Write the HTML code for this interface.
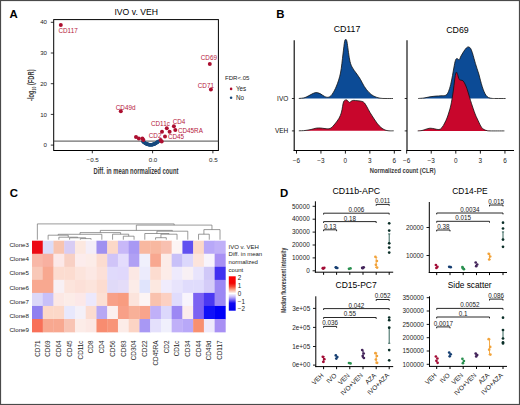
<!DOCTYPE html>
<html><head><meta charset="utf-8"><style>
html,body{margin:0;padding:0;background:#fff;}
svg{display:block;font-family:"Liberation Sans", sans-serif;}
</style></head><body>
<svg width="520" height="405" viewBox="0 0 520 405">
<rect width="520" height="405" fill="#fff"/>
<rect x="0.5" y="0.5" width="519" height="404" fill="none" stroke="#4a4a4a" stroke-width="1.2"/>
<text x="9.6" y="18.1" font-size="11.4" text-anchor="start" font-weight="bold" fill="#000" >A</text>
<text x="276.3" y="18.1" font-size="11.4" text-anchor="start" font-weight="bold" fill="#000" >B</text>
<text x="9.8" y="196.8" font-size="11.4" text-anchor="start" font-weight="bold" fill="#000" >C</text>
<text x="280.1" y="196.8" font-size="11.4" text-anchor="start" font-weight="bold" fill="#000" >D</text>
<rect x="53.7" y="19.6" width="164.7" height="130.9" fill="none" stroke="#000" stroke-width="1"/>
<text x="136.2" y="15" font-size="8.65" text-anchor="middle" font-weight="normal" fill="#000" >IVO v. VEH</text>
<line x1="50.8" y1="145.1" x2="53.7" y2="145.1" stroke="#000" stroke-width="0.8" />
<text x="47.0" y="147.2" font-size="6.1" text-anchor="end" font-weight="normal" fill="#222" >0</text>
<line x1="50.8" y1="114.39999999999999" x2="53.7" y2="114.39999999999999" stroke="#000" stroke-width="0.8" />
<text x="47.0" y="116.49999999999999" font-size="6.1" text-anchor="end" font-weight="normal" fill="#222" >10</text>
<line x1="50.8" y1="83.69999999999999" x2="53.7" y2="83.69999999999999" stroke="#000" stroke-width="0.8" />
<text x="47.0" y="85.79999999999998" font-size="6.1" text-anchor="end" font-weight="normal" fill="#222" >20</text>
<line x1="50.8" y1="53.0" x2="53.7" y2="53.0" stroke="#000" stroke-width="0.8" />
<text x="47.0" y="55.1" font-size="6.1" text-anchor="end" font-weight="normal" fill="#222" >30</text>
<line x1="50.8" y1="22.299999999999997" x2="53.7" y2="22.299999999999997" stroke="#000" stroke-width="0.8" />
<text x="47.0" y="24.4" font-size="6.1" text-anchor="end" font-weight="normal" fill="#222" >40</text>
<line x1="92.3" y1="150.5" x2="92.3" y2="153.3" stroke="#000" stroke-width="0.8" />
<text x="92.7" y="161.9" font-size="6.2" text-anchor="middle" font-weight="normal" fill="#222" >−0.5</text>
<line x1="152.6" y1="150.5" x2="152.6" y2="153.3" stroke="#000" stroke-width="0.8" />
<text x="153.0" y="161.9" font-size="6.2" text-anchor="middle" font-weight="normal" fill="#222" >0.0</text>
<line x1="212.89999999999998" y1="150.5" x2="212.89999999999998" y2="153.3" stroke="#000" stroke-width="0.8" />
<text x="213.29999999999998" y="161.9" font-size="6.2" text-anchor="middle" font-weight="normal" fill="#222" >0.5</text>
<text x="135.95" y="173.7" font-size="8.4" font-weight="bold" text-anchor="middle" fill="#3a3a3a" textLength="84.9" lengthAdjust="spacingAndGlyphs">Diff. in mean normalized count</text>
<g transform="translate(34.3,85.25) rotate(-90) scale(0.70,1)"><text x="0" y="0" font-size="8.2" font-weight="bold" text-anchor="middle" fill="#3a3a3a">-log<tspan font-size="5" dy="1.6">10</tspan><tspan dy="-1.6"> (FDR)</tspan></text></g>
<line x1="53.7" y1="141.1" x2="218.4" y2="141.1" stroke="#4a4a4a" stroke-width="1" />
<circle cx="143.00" cy="141.50" r="1.8" fill="#174a7e"/>
<circle cx="143.40" cy="141.84" r="1.8" fill="#174a7e"/>
<circle cx="143.79" cy="142.15" r="1.8" fill="#174a7e"/>
<circle cx="144.19" cy="142.45" r="1.8" fill="#174a7e"/>
<circle cx="144.59" cy="142.74" r="1.8" fill="#174a7e"/>
<circle cx="144.99" cy="143.00" r="1.8" fill="#174a7e"/>
<circle cx="145.38" cy="143.25" r="1.8" fill="#174a7e"/>
<circle cx="145.78" cy="143.47" r="1.8" fill="#174a7e"/>
<circle cx="146.18" cy="143.68" r="1.8" fill="#174a7e"/>
<circle cx="146.58" cy="143.88" r="1.8" fill="#174a7e"/>
<circle cx="146.97" cy="144.05" r="1.8" fill="#174a7e"/>
<circle cx="147.37" cy="144.20" r="1.8" fill="#174a7e"/>
<circle cx="147.77" cy="144.34" r="1.8" fill="#174a7e"/>
<circle cx="148.17" cy="144.46" r="1.8" fill="#174a7e"/>
<circle cx="148.56" cy="144.56" r="1.8" fill="#174a7e"/>
<circle cx="148.96" cy="144.65" r="1.8" fill="#174a7e"/>
<circle cx="149.36" cy="144.71" r="1.8" fill="#174a7e"/>
<circle cx="149.76" cy="144.76" r="1.8" fill="#174a7e"/>
<circle cx="150.15" cy="144.79" r="1.8" fill="#174a7e"/>
<circle cx="150.55" cy="144.80" r="1.8" fill="#174a7e"/>
<circle cx="150.95" cy="144.79" r="1.8" fill="#174a7e"/>
<circle cx="151.35" cy="144.77" r="1.8" fill="#174a7e"/>
<circle cx="151.74" cy="144.73" r="1.8" fill="#174a7e"/>
<circle cx="152.14" cy="144.66" r="1.8" fill="#174a7e"/>
<circle cx="152.54" cy="144.59" r="1.8" fill="#174a7e"/>
<circle cx="152.94" cy="144.49" r="1.8" fill="#174a7e"/>
<circle cx="153.33" cy="144.37" r="1.8" fill="#174a7e"/>
<circle cx="153.73" cy="144.24" r="1.8" fill="#174a7e"/>
<circle cx="154.13" cy="144.09" r="1.8" fill="#174a7e"/>
<circle cx="154.53" cy="143.92" r="1.8" fill="#174a7e"/>
<circle cx="154.92" cy="143.73" r="1.8" fill="#174a7e"/>
<circle cx="155.32" cy="143.53" r="1.8" fill="#174a7e"/>
<circle cx="155.72" cy="143.30" r="1.8" fill="#174a7e"/>
<circle cx="156.12" cy="143.06" r="1.8" fill="#174a7e"/>
<circle cx="156.51" cy="142.80" r="1.8" fill="#174a7e"/>
<circle cx="156.91" cy="142.53" r="1.8" fill="#174a7e"/>
<circle cx="157.31" cy="142.23" r="1.8" fill="#174a7e"/>
<circle cx="157.71" cy="141.92" r="1.8" fill="#174a7e"/>
<circle cx="158.10" cy="141.58" r="1.8" fill="#174a7e"/>
<circle cx="158.50" cy="141.23" r="1.8" fill="#174a7e"/>
<circle cx="60.80" cy="25.00" r="2" fill="#ac0f30"/>
<circle cx="209.80" cy="64.00" r="2" fill="#ac0f30"/>
<circle cx="210.90" cy="89.60" r="2" fill="#ac0f30"/>
<circle cx="120.80" cy="111.20" r="2" fill="#ac0f30"/>
<circle cx="136.00" cy="137.00" r="2" fill="#ac0f30"/>
<circle cx="138.80" cy="138.40" r="2" fill="#ac0f30"/>
<circle cx="142.40" cy="138.40" r="2" fill="#ac0f30"/>
<circle cx="143.40" cy="140.00" r="2" fill="#ac0f30"/>
<circle cx="160.60" cy="140.00" r="2" fill="#ac0f30"/>
<circle cx="161.70" cy="141.60" r="2" fill="#ac0f30"/>
<circle cx="162.00" cy="131.80" r="2" fill="#ac0f30"/>
<circle cx="165.00" cy="136.50" r="2" fill="#ac0f30"/>
<circle cx="166.80" cy="128.20" r="2" fill="#ac0f30"/>
<circle cx="169.60" cy="131.80" r="2" fill="#ac0f30"/>
<circle cx="173.90" cy="126.20" r="2" fill="#ac0f30"/>
<circle cx="175.30" cy="130.00" r="2" fill="#ac0f30"/>
<text x="58.5" y="32.6" font-size="6.3" text-anchor="start" font-weight="normal" fill="#b5173a" >CD117</text>
<text x="200.8" y="60.2" font-size="6.3" text-anchor="start" font-weight="normal" fill="#b5173a" >CD69</text>
<text x="197.8" y="87.9" font-size="6.3" text-anchor="start" font-weight="normal" fill="#b5173a" >CD71</text>
<text x="115.8" y="109.5" font-size="6.3" text-anchor="start" font-weight="normal" fill="#b5173a" >CD49d</text>
<text x="151" y="125.7" font-size="6.3" text-anchor="start" font-weight="normal" fill="#b5173a" >CD11c</text>
<text x="172.7" y="124.2" font-size="6.3" text-anchor="start" font-weight="normal" fill="#b5173a" >CD4</text>
<text x="178" y="132.5" font-size="6.3" text-anchor="start" font-weight="normal" fill="#b5173a" >CD45RA</text>
<text x="168" y="138.7" font-size="6.3" text-anchor="start" font-weight="normal" fill="#b5173a" >CD45</text>
<text x="148.8" y="138.2" font-size="6.3" text-anchor="start" font-weight="normal" fill="#b5173a" >CD2</text>
<text x="225" y="80.4" font-size="6.05" text-anchor="start" font-weight="normal" fill="#222" >FDR&lt;.05</text>
<circle cx="231.10" cy="88.90" r="1.3" fill="#ac0f30"/>
<text x="236" y="91" font-size="6.3" text-anchor="start" font-weight="normal" fill="#222" >Yes</text>
<circle cx="231.10" cy="97.80" r="1.3" fill="#174a7e"/>
<text x="236" y="99.9" font-size="6.3" text-anchor="start" font-weight="normal" fill="#222" >No</text>
<text x="347" y="32.1" font-size="8.8" text-anchor="middle" font-weight="normal" fill="#000" >CD117</text>
<text x="457.5" y="32.7" font-size="8.8" text-anchor="middle" font-weight="normal" fill="#000" >CD69</text>
<line x1="294.2" y1="40.3" x2="294.2" y2="151.0" stroke="#000" stroke-width="1.1" />
<line x1="293.65" y1="150.5" x2="401.2" y2="150.5" stroke="#000" stroke-width="1.1" />
<line x1="296.5" y1="150.5" x2="296.5" y2="153.6" stroke="#000" stroke-width="0.9" />
<text x="296.5" y="162.8" font-size="6.4" text-anchor="middle" font-weight="normal" fill="#222" >−6</text>
<line x1="320.95" y1="150.5" x2="320.95" y2="153.6" stroke="#000" stroke-width="0.9" />
<text x="320.95" y="162.8" font-size="6.4" text-anchor="middle" font-weight="normal" fill="#222" >−3</text>
<line x1="345.4" y1="150.5" x2="345.4" y2="153.6" stroke="#000" stroke-width="0.9" />
<text x="345.4" y="162.8" font-size="6.4" text-anchor="middle" font-weight="normal" fill="#222" >0</text>
<line x1="369.84999999999997" y1="150.5" x2="369.84999999999997" y2="153.6" stroke="#000" stroke-width="0.9" />
<text x="369.84999999999997" y="162.8" font-size="6.4" text-anchor="middle" font-weight="normal" fill="#222" >3</text>
<line x1="394.29999999999995" y1="150.5" x2="394.29999999999995" y2="153.6" stroke="#000" stroke-width="0.9" />
<text x="394.29999999999995" y="162.8" font-size="6.4" text-anchor="middle" font-weight="normal" fill="#222" >6</text>
<line x1="291.9" y1="98.5" x2="294.2" y2="98.5" stroke="#000" stroke-width="0.8" />
<line x1="291.9" y1="130.9" x2="294.2" y2="130.9" stroke="#000" stroke-width="0.8" />
<line x1="407.0" y1="40.3" x2="407.0" y2="151.0" stroke="#000" stroke-width="1.1" />
<line x1="406.45" y1="150.5" x2="514.0" y2="150.5" stroke="#000" stroke-width="1.1" />
<line x1="406.66" y1="150.5" x2="406.66" y2="153.6" stroke="#000" stroke-width="0.9" />
<text x="406.66" y="162.8" font-size="6.4" text-anchor="middle" font-weight="normal" fill="#222" >−6</text>
<line x1="431.23" y1="150.5" x2="431.23" y2="153.6" stroke="#000" stroke-width="0.9" />
<text x="431.23" y="162.8" font-size="6.4" text-anchor="middle" font-weight="normal" fill="#222" >−3</text>
<line x1="455.8" y1="150.5" x2="455.8" y2="153.6" stroke="#000" stroke-width="0.9" />
<text x="455.8" y="162.8" font-size="6.4" text-anchor="middle" font-weight="normal" fill="#222" >0</text>
<line x1="480.37" y1="150.5" x2="480.37" y2="153.6" stroke="#000" stroke-width="0.9" />
<text x="480.37" y="162.8" font-size="6.4" text-anchor="middle" font-weight="normal" fill="#222" >3</text>
<line x1="504.94" y1="150.5" x2="504.94" y2="153.6" stroke="#000" stroke-width="0.9" />
<text x="504.94" y="162.8" font-size="6.4" text-anchor="middle" font-weight="normal" fill="#222" >6</text>
<line x1="404.7" y1="98.5" x2="407.0" y2="98.5" stroke="#000" stroke-width="0.8" />
<line x1="404.7" y1="130.9" x2="407.0" y2="130.9" stroke="#000" stroke-width="0.8" />
<text x="288.3" y="100.8" font-size="6.5" text-anchor="end" font-weight="normal" fill="#111" >IVO</text>
<text x="288.3" y="133.2" font-size="6.5" text-anchor="end" font-weight="normal" fill="#111" >VEH</text>
<text x="402.7" y="173" font-size="8.1" font-weight="bold" text-anchor="middle" fill="#3a3a3a" textLength="65.8" lengthAdjust="spacingAndGlyphs">Normalized count (CLR)</text>
<path d="M298.80,98.50 C299.83,98.35 302.97,98.27 305.00,97.60 C307.03,96.93 309.22,95.33 311.00,94.50 C312.78,93.67 314.20,92.75 315.70,92.60 C317.20,92.45 318.53,92.97 320.00,93.60 C321.47,94.23 323.10,95.80 324.50,96.40 C325.90,97.00 327.15,97.52 328.40,97.20 C329.65,96.88 330.65,96.37 332.00,94.50 C333.35,92.63 335.08,89.58 336.50,86.00 C337.92,82.42 339.42,78.33 340.50,73.00 C341.58,67.67 342.32,59.25 343.00,54.00 C343.68,48.75 344.15,43.88 344.60,41.50 C345.05,39.12 345.30,39.62 345.70,39.70 C346.10,39.78 346.37,38.78 347.00,42.00 C347.63,45.22 348.67,54.83 349.50,59.00 C350.33,63.17 350.77,64.48 352.00,67.00 C353.23,69.52 355.48,72.02 356.90,74.10 C358.32,76.18 359.27,77.43 360.50,79.50 C361.73,81.57 362.88,84.33 364.30,86.50 C365.72,88.67 367.40,90.88 369.00,92.50 C370.60,94.12 372.07,95.25 373.90,96.20 C375.73,97.15 377.98,97.82 380.00,98.20 C382.02,98.58 383.83,98.45 386.00,98.50 C388.17,98.55 391.83,98.50 393.00,98.50 L393.00,98.5 L298.80,98.5 Z" fill="#0c4b96" stroke="none"/>
<path d="M298.80,98.50 C299.83,98.35 302.97,98.27 305.00,97.60 C307.03,96.93 309.22,95.33 311.00,94.50 C312.78,93.67 314.20,92.75 315.70,92.60 C317.20,92.45 318.53,92.97 320.00,93.60 C321.47,94.23 323.10,95.80 324.50,96.40 C325.90,97.00 327.15,97.52 328.40,97.20 C329.65,96.88 330.65,96.37 332.00,94.50 C333.35,92.63 335.08,89.58 336.50,86.00 C337.92,82.42 339.42,78.33 340.50,73.00 C341.58,67.67 342.32,59.25 343.00,54.00 C343.68,48.75 344.15,43.88 344.60,41.50 C345.05,39.12 345.30,39.62 345.70,39.70 C346.10,39.78 346.37,38.78 347.00,42.00 C347.63,45.22 348.67,54.83 349.50,59.00 C350.33,63.17 350.77,64.48 352.00,67.00 C353.23,69.52 355.48,72.02 356.90,74.10 C358.32,76.18 359.27,77.43 360.50,79.50 C361.73,81.57 362.88,84.33 364.30,86.50 C365.72,88.67 367.40,90.88 369.00,92.50 C370.60,94.12 372.07,95.25 373.90,96.20 C375.73,97.15 377.98,97.82 380.00,98.20 C382.02,98.58 383.83,98.45 386.00,98.50 C388.17,98.55 391.83,98.50 393.00,98.50" fill="none" stroke="#111" stroke-width="0.8"/>
<path d="M298.80,130.80 C299.83,130.75 302.97,130.72 305.00,130.50 C307.03,130.28 309.17,129.88 311.00,129.50 C312.83,129.12 314.42,128.45 316.00,128.20 C317.58,127.95 319.00,127.93 320.50,128.00 C322.00,128.07 323.42,128.52 325.00,128.60 C326.58,128.68 328.50,129.10 330.00,128.50 C331.50,127.90 332.53,126.65 334.00,125.00 C335.47,123.35 337.55,120.77 338.80,118.60 C340.05,116.43 340.72,114.77 341.50,112.00 C342.28,109.23 342.78,104.02 343.50,102.00 C344.22,99.98 345.13,100.13 345.80,99.90 C346.47,99.67 346.88,100.18 347.50,100.60 C348.12,101.02 348.83,102.33 349.50,102.40 C350.17,102.47 350.78,101.33 351.50,101.00 C352.22,100.67 352.72,100.43 353.80,100.40 C354.88,100.37 356.63,100.63 358.00,100.80 C359.37,100.97 360.92,101.03 362.00,101.40 C363.08,101.77 363.67,102.07 364.50,103.00 C365.33,103.93 366.08,105.42 367.00,107.00 C367.92,108.58 368.92,110.67 370.00,112.50 C371.08,114.33 372.25,116.12 373.50,118.00 C374.75,119.88 376.25,122.22 377.50,123.80 C378.75,125.38 379.75,126.47 381.00,127.50 C382.25,128.53 383.67,129.45 385.00,130.00 C386.33,130.55 387.55,130.67 389.00,130.80 C390.45,130.93 392.92,130.80 393.70,130.80 L393.70,130.8 L298.80,130.8 Z" fill="#c8062c" stroke="none"/>
<path d="M298.80,130.80 C299.83,130.75 302.97,130.72 305.00,130.50 C307.03,130.28 309.17,129.88 311.00,129.50 C312.83,129.12 314.42,128.45 316.00,128.20 C317.58,127.95 319.00,127.93 320.50,128.00 C322.00,128.07 323.42,128.52 325.00,128.60 C326.58,128.68 328.50,129.10 330.00,128.50 C331.50,127.90 332.53,126.65 334.00,125.00 C335.47,123.35 337.55,120.77 338.80,118.60 C340.05,116.43 340.72,114.77 341.50,112.00 C342.28,109.23 342.78,104.02 343.50,102.00 C344.22,99.98 345.13,100.13 345.80,99.90 C346.47,99.67 346.88,100.18 347.50,100.60 C348.12,101.02 348.83,102.33 349.50,102.40 C350.17,102.47 350.78,101.33 351.50,101.00 C352.22,100.67 352.72,100.43 353.80,100.40 C354.88,100.37 356.63,100.63 358.00,100.80 C359.37,100.97 360.92,101.03 362.00,101.40 C363.08,101.77 363.67,102.07 364.50,103.00 C365.33,103.93 366.08,105.42 367.00,107.00 C367.92,108.58 368.92,110.67 370.00,112.50 C371.08,114.33 372.25,116.12 373.50,118.00 C374.75,119.88 376.25,122.22 377.50,123.80 C378.75,125.38 379.75,126.47 381.00,127.50 C382.25,128.53 383.67,129.45 385.00,130.00 C386.33,130.55 387.55,130.67 389.00,130.80 C390.45,130.93 392.92,130.80 393.70,130.80" fill="none" stroke="#111" stroke-width="0.8"/>
<path d="M418.20,98.50 C419.17,98.42 422.03,98.28 424.00,98.00 C425.97,97.72 428.00,97.12 430.00,96.80 C432.00,96.48 434.17,96.27 436.00,96.10 C437.83,95.93 439.35,95.95 441.00,95.80 C442.65,95.65 444.65,95.92 445.90,95.20 C447.15,94.48 447.70,93.30 448.50,91.50 C449.30,89.70 450.03,87.07 450.70,84.40 C451.37,81.73 451.95,78.40 452.50,75.50 C453.05,72.60 453.52,69.50 454.00,67.00 C454.48,64.50 454.92,61.92 455.40,60.50 C455.88,59.08 456.27,58.63 456.90,58.50 C457.53,58.37 458.52,60.12 459.20,59.70 C459.88,59.28 460.28,57.32 461.00,56.00 C461.72,54.68 462.62,53.13 463.50,51.80 C464.38,50.47 465.47,48.82 466.30,48.00 C467.13,47.18 467.80,46.85 468.50,46.90 C469.20,46.95 469.87,47.37 470.50,48.30 C471.13,49.23 471.72,50.80 472.30,52.50 C472.88,54.20 473.48,56.68 474.00,58.50 C474.52,60.32 474.90,61.73 475.40,63.40 C475.90,65.07 476.43,66.73 477.00,68.50 C477.57,70.27 478.23,72.05 478.80,74.00 C479.37,75.95 479.83,78.12 480.40,80.20 C480.97,82.28 481.60,84.62 482.20,86.50 C482.80,88.38 483.37,90.03 484.00,91.50 C484.63,92.97 485.25,94.28 486.00,95.30 C486.75,96.32 487.50,97.08 488.50,97.60 C489.50,98.12 490.75,98.25 492.00,98.40 C493.25,98.55 493.73,98.48 496.00,98.50 C498.27,98.52 504.00,98.50 505.60,98.50 L505.60,98.5 L418.20,98.5 Z" fill="#0c4b96" stroke="none"/>
<path d="M418.20,98.50 C419.17,98.42 422.03,98.28 424.00,98.00 C425.97,97.72 428.00,97.12 430.00,96.80 C432.00,96.48 434.17,96.27 436.00,96.10 C437.83,95.93 439.35,95.95 441.00,95.80 C442.65,95.65 444.65,95.92 445.90,95.20 C447.15,94.48 447.70,93.30 448.50,91.50 C449.30,89.70 450.03,87.07 450.70,84.40 C451.37,81.73 451.95,78.40 452.50,75.50 C453.05,72.60 453.52,69.50 454.00,67.00 C454.48,64.50 454.92,61.92 455.40,60.50 C455.88,59.08 456.27,58.63 456.90,58.50 C457.53,58.37 458.52,60.12 459.20,59.70 C459.88,59.28 460.28,57.32 461.00,56.00 C461.72,54.68 462.62,53.13 463.50,51.80 C464.38,50.47 465.47,48.82 466.30,48.00 C467.13,47.18 467.80,46.85 468.50,46.90 C469.20,46.95 469.87,47.37 470.50,48.30 C471.13,49.23 471.72,50.80 472.30,52.50 C472.88,54.20 473.48,56.68 474.00,58.50 C474.52,60.32 474.90,61.73 475.40,63.40 C475.90,65.07 476.43,66.73 477.00,68.50 C477.57,70.27 478.23,72.05 478.80,74.00 C479.37,75.95 479.83,78.12 480.40,80.20 C480.97,82.28 481.60,84.62 482.20,86.50 C482.80,88.38 483.37,90.03 484.00,91.50 C484.63,92.97 485.25,94.28 486.00,95.30 C486.75,96.32 487.50,97.08 488.50,97.60 C489.50,98.12 490.75,98.25 492.00,98.40 C493.25,98.55 493.73,98.48 496.00,98.50 C498.27,98.52 504.00,98.50 505.60,98.50" fill="none" stroke="#111" stroke-width="0.8"/>
<path d="M417.70,130.90 C418.42,130.83 420.62,130.78 422.00,130.50 C423.38,130.22 424.67,129.58 426.00,129.20 C427.33,128.82 428.58,128.27 430.00,128.20 C431.42,128.13 433.00,128.57 434.50,128.80 C436.00,129.03 437.75,129.82 439.00,129.60 C440.25,129.38 441.05,128.60 442.00,127.50 C442.95,126.40 443.87,124.58 444.70,123.00 C445.53,121.42 446.28,119.83 447.00,118.00 C447.72,116.17 448.38,114.00 449.00,112.00 C449.62,110.00 450.17,108.33 450.70,106.00 C451.23,103.67 451.75,100.67 452.20,98.00 C452.65,95.33 453.02,92.83 453.40,90.00 C453.78,87.17 454.13,83.67 454.50,81.00 C454.87,78.33 455.27,75.47 455.60,74.00 C455.93,72.53 456.17,72.12 456.50,72.20 C456.83,72.28 457.15,73.32 457.60,74.50 C458.05,75.68 458.63,78.35 459.20,79.30 C459.77,80.25 460.37,79.95 461.00,80.20 C461.63,80.45 462.33,80.17 463.00,80.80 C463.67,81.43 464.37,82.75 465.00,84.00 C465.63,85.25 466.20,86.63 466.80,88.30 C467.40,89.97 467.98,91.98 468.60,94.00 C469.22,96.02 469.88,98.40 470.50,100.40 C471.12,102.40 471.68,104.15 472.30,106.00 C472.92,107.85 473.58,109.80 474.20,111.50 C474.82,113.20 475.38,114.75 476.00,116.20 C476.62,117.65 477.27,118.87 477.90,120.20 C478.53,121.53 479.18,123.00 479.80,124.20 C480.42,125.40 480.90,126.50 481.60,127.40 C482.30,128.30 483.10,129.07 484.00,129.60 C484.90,130.13 486.00,130.38 487.00,130.60 C488.00,130.82 487.10,130.85 490.00,130.90 C492.90,130.95 502.00,130.90 504.40,130.90 L504.40,130.9 L417.70,130.9 Z" fill="#c8062c" stroke="none"/>
<path d="M417.70,130.90 C418.42,130.83 420.62,130.78 422.00,130.50 C423.38,130.22 424.67,129.58 426.00,129.20 C427.33,128.82 428.58,128.27 430.00,128.20 C431.42,128.13 433.00,128.57 434.50,128.80 C436.00,129.03 437.75,129.82 439.00,129.60 C440.25,129.38 441.05,128.60 442.00,127.50 C442.95,126.40 443.87,124.58 444.70,123.00 C445.53,121.42 446.28,119.83 447.00,118.00 C447.72,116.17 448.38,114.00 449.00,112.00 C449.62,110.00 450.17,108.33 450.70,106.00 C451.23,103.67 451.75,100.67 452.20,98.00 C452.65,95.33 453.02,92.83 453.40,90.00 C453.78,87.17 454.13,83.67 454.50,81.00 C454.87,78.33 455.27,75.47 455.60,74.00 C455.93,72.53 456.17,72.12 456.50,72.20 C456.83,72.28 457.15,73.32 457.60,74.50 C458.05,75.68 458.63,78.35 459.20,79.30 C459.77,80.25 460.37,79.95 461.00,80.20 C461.63,80.45 462.33,80.17 463.00,80.80 C463.67,81.43 464.37,82.75 465.00,84.00 C465.63,85.25 466.20,86.63 466.80,88.30 C467.40,89.97 467.98,91.98 468.60,94.00 C469.22,96.02 469.88,98.40 470.50,100.40 C471.12,102.40 471.68,104.15 472.30,106.00 C472.92,107.85 473.58,109.80 474.20,111.50 C474.82,113.20 475.38,114.75 476.00,116.20 C476.62,117.65 477.27,118.87 477.90,120.20 C478.53,121.53 479.18,123.00 479.80,124.20 C480.42,125.40 480.90,126.50 481.60,127.40 C482.30,128.30 483.10,129.07 484.00,129.60 C484.90,130.13 486.00,130.38 487.00,130.60 C488.00,130.82 487.10,130.85 490.00,130.90 C492.90,130.95 502.00,130.90 504.40,130.90" fill="none" stroke="#111" stroke-width="0.8"/>
<rect x="32.00" y="240.70" width="11.04" height="13.35" fill="#ec0a14"/>
<rect x="42.74" y="240.70" width="11.04" height="13.35" fill="#dcdcf8"/>
<rect x="53.49" y="240.70" width="11.04" height="13.35" fill="#f8c4b0"/>
<rect x="64.23" y="240.70" width="11.04" height="13.35" fill="#d8ccf4"/>
<rect x="74.98" y="240.70" width="11.04" height="13.35" fill="#fce8e0"/>
<rect x="85.72" y="240.70" width="11.04" height="13.35" fill="#f4eef8"/>
<rect x="96.46" y="240.70" width="11.04" height="13.35" fill="#a090f0"/>
<rect x="107.21" y="240.70" width="11.04" height="13.35" fill="#fcd8c8"/>
<rect x="117.95" y="240.70" width="11.04" height="13.35" fill="#c8b8f8"/>
<rect x="128.70" y="240.70" width="11.04" height="13.35" fill="#a898f4"/>
<rect x="139.44" y="240.70" width="11.04" height="13.35" fill="#f8b8a0"/>
<rect x="150.18" y="240.70" width="11.04" height="13.35" fill="#f8b8a0"/>
<rect x="160.93" y="240.70" width="11.04" height="13.35" fill="#f8c0b0"/>
<rect x="171.67" y="240.70" width="11.04" height="13.35" fill="#fcf4f4"/>
<rect x="182.42" y="240.70" width="11.04" height="13.35" fill="#6050f0"/>
<rect x="193.16" y="240.70" width="11.04" height="13.35" fill="#fcd8c8"/>
<rect x="203.90" y="240.70" width="11.04" height="13.35" fill="#b8a8f8"/>
<rect x="214.65" y="240.70" width="11.04" height="13.35" fill="#c0b0f8"/>
<rect x="32.00" y="253.75" width="11.04" height="13.35" fill="#f8b8a8"/>
<rect x="42.74" y="253.75" width="11.04" height="13.35" fill="#f8b0a0"/>
<rect x="53.49" y="253.75" width="11.04" height="13.35" fill="#fce8e8"/>
<rect x="64.23" y="253.75" width="11.04" height="13.35" fill="#f8d0c4"/>
<rect x="74.98" y="253.75" width="11.04" height="13.35" fill="#fcecec"/>
<rect x="85.72" y="253.75" width="11.04" height="13.35" fill="#fcece8"/>
<rect x="96.46" y="253.75" width="11.04" height="13.35" fill="#fcdcd0"/>
<rect x="107.21" y="253.75" width="11.04" height="13.35" fill="#d0c4f8"/>
<rect x="117.95" y="253.75" width="11.04" height="13.35" fill="#e4dcfc"/>
<rect x="128.70" y="253.75" width="11.04" height="13.35" fill="#b0a0f4"/>
<rect x="139.44" y="253.75" width="11.04" height="13.35" fill="#f0f0fc"/>
<rect x="150.18" y="253.75" width="11.04" height="13.35" fill="#f8a890"/>
<rect x="160.93" y="253.75" width="11.04" height="13.35" fill="#fcece8"/>
<rect x="171.67" y="253.75" width="11.04" height="13.35" fill="#c8c0f8"/>
<rect x="182.42" y="253.75" width="11.04" height="13.35" fill="#dcd8fc"/>
<rect x="193.16" y="253.75" width="11.04" height="13.35" fill="#fce4dc"/>
<rect x="203.90" y="253.75" width="11.04" height="13.35" fill="#f8f4fc"/>
<rect x="214.65" y="253.75" width="11.04" height="13.35" fill="#a890f4"/>
<rect x="32.00" y="266.80" width="11.04" height="13.35" fill="#f8c8b8"/>
<rect x="42.74" y="266.80" width="11.04" height="13.35" fill="#f8a890"/>
<rect x="53.49" y="266.80" width="11.04" height="13.35" fill="#fcdcd0"/>
<rect x="64.23" y="266.80" width="11.04" height="13.35" fill="#fcdcd0"/>
<rect x="74.98" y="266.80" width="11.04" height="13.35" fill="#fce4dc"/>
<rect x="85.72" y="266.80" width="11.04" height="13.35" fill="#fce8e4"/>
<rect x="96.46" y="266.80" width="11.04" height="13.35" fill="#fce0d8"/>
<rect x="107.21" y="266.80" width="11.04" height="13.35" fill="#e0dafc"/>
<rect x="117.95" y="266.80" width="11.04" height="13.35" fill="#e0d8fc"/>
<rect x="128.70" y="266.80" width="11.04" height="13.35" fill="#fce8e4"/>
<rect x="139.44" y="266.80" width="11.04" height="13.35" fill="#ecebfc"/>
<rect x="150.18" y="266.80" width="11.04" height="13.35" fill="#fcdcd0"/>
<rect x="160.93" y="266.80" width="11.04" height="13.35" fill="#fcece8"/>
<rect x="171.67" y="266.80" width="11.04" height="13.35" fill="#eeeafc"/>
<rect x="182.42" y="266.80" width="11.04" height="13.35" fill="#f8f0f4"/>
<rect x="193.16" y="266.80" width="11.04" height="13.35" fill="#e8e4fc"/>
<rect x="203.90" y="266.80" width="11.04" height="13.35" fill="#d0c8f8"/>
<rect x="214.65" y="266.80" width="11.04" height="13.35" fill="#4030f0"/>
<rect x="32.00" y="279.85" width="11.04" height="13.35" fill="#f8a890"/>
<rect x="42.74" y="279.85" width="11.04" height="13.35" fill="#f8a890"/>
<rect x="53.49" y="279.85" width="11.04" height="13.35" fill="#f8f0f4"/>
<rect x="64.23" y="279.85" width="11.04" height="13.35" fill="#fce4dc"/>
<rect x="74.98" y="279.85" width="11.04" height="13.35" fill="#fce0d8"/>
<rect x="85.72" y="279.85" width="11.04" height="13.35" fill="#fce4dc"/>
<rect x="96.46" y="279.85" width="11.04" height="13.35" fill="#fcdcd0"/>
<rect x="107.21" y="279.85" width="11.04" height="13.35" fill="#e0daf8"/>
<rect x="117.95" y="279.85" width="11.04" height="13.35" fill="#e4dcf8"/>
<rect x="128.70" y="279.85" width="11.04" height="13.35" fill="#fcece8"/>
<rect x="139.44" y="279.85" width="11.04" height="13.35" fill="#e0e4fc"/>
<rect x="150.18" y="279.85" width="11.04" height="13.35" fill="#fce8e0"/>
<rect x="160.93" y="279.85" width="11.04" height="13.35" fill="#f0ecfc"/>
<rect x="171.67" y="279.85" width="11.04" height="13.35" fill="#e8e4fc"/>
<rect x="182.42" y="279.85" width="11.04" height="13.35" fill="#e0dcfc"/>
<rect x="193.16" y="279.85" width="11.04" height="13.35" fill="#e0dcfc"/>
<rect x="203.90" y="279.85" width="11.04" height="13.35" fill="#d4ccf8"/>
<rect x="214.65" y="279.85" width="11.04" height="13.35" fill="#9c88f4"/>
<rect x="32.00" y="292.90" width="11.04" height="13.35" fill="#dcd8f8"/>
<rect x="42.74" y="292.90" width="11.04" height="13.35" fill="#c8c0f8"/>
<rect x="53.49" y="292.90" width="11.04" height="13.35" fill="#fce8e4"/>
<rect x="64.23" y="292.90" width="11.04" height="13.35" fill="#fcece8"/>
<rect x="74.98" y="292.90" width="11.04" height="13.35" fill="#fce8e8"/>
<rect x="85.72" y="292.90" width="11.04" height="13.35" fill="#ece8fc"/>
<rect x="96.46" y="292.90" width="11.04" height="13.35" fill="#fce0d4"/>
<rect x="107.21" y="292.90" width="11.04" height="13.35" fill="#f8a088"/>
<rect x="117.95" y="292.90" width="11.04" height="13.35" fill="#f89c80"/>
<rect x="128.70" y="292.90" width="11.04" height="13.35" fill="#fce4dc"/>
<rect x="139.44" y="292.90" width="11.04" height="13.35" fill="#fcf4f4"/>
<rect x="150.18" y="292.90" width="11.04" height="13.35" fill="#f9c2ae"/>
<rect x="160.93" y="292.90" width="11.04" height="13.35" fill="#fcd0c2"/>
<rect x="171.67" y="292.90" width="11.04" height="13.35" fill="#e0dcfc"/>
<rect x="182.42" y="292.90" width="11.04" height="13.35" fill="#f8f4fc"/>
<rect x="193.16" y="292.90" width="11.04" height="13.35" fill="#7c62f2"/>
<rect x="203.90" y="292.90" width="11.04" height="13.35" fill="#4a38f2"/>
<rect x="214.65" y="292.90" width="11.04" height="13.35" fill="#9c88f4"/>
<rect x="32.00" y="305.95" width="11.04" height="13.35" fill="#9080f0"/>
<rect x="42.74" y="305.95" width="11.04" height="13.35" fill="#fcd8c8"/>
<rect x="53.49" y="305.95" width="11.04" height="13.35" fill="#fcd8c8"/>
<rect x="64.23" y="305.95" width="11.04" height="13.35" fill="#e8e8fc"/>
<rect x="74.98" y="305.95" width="11.04" height="13.35" fill="#f4f0f8"/>
<rect x="85.72" y="305.95" width="11.04" height="13.35" fill="#fcdcd0"/>
<rect x="96.46" y="305.95" width="11.04" height="13.35" fill="#b8a8f4"/>
<rect x="107.21" y="305.95" width="11.04" height="13.35" fill="#fcf0f0"/>
<rect x="117.95" y="305.95" width="11.04" height="13.35" fill="#f8a088"/>
<rect x="128.70" y="305.95" width="11.04" height="13.35" fill="#f8b098"/>
<rect x="139.44" y="305.95" width="11.04" height="13.35" fill="#f8a48c"/>
<rect x="150.18" y="305.95" width="11.04" height="13.35" fill="#c0b0f8"/>
<rect x="160.93" y="305.95" width="11.04" height="13.35" fill="#dcd8fc"/>
<rect x="171.67" y="305.95" width="11.04" height="13.35" fill="#9c88f4"/>
<rect x="182.42" y="305.95" width="11.04" height="13.35" fill="#fcecec"/>
<rect x="193.16" y="305.95" width="11.04" height="13.35" fill="#7c62f2"/>
<rect x="203.90" y="305.95" width="11.04" height="13.35" fill="#1010f8"/>
<rect x="214.65" y="305.95" width="11.04" height="13.35" fill="#0000f8"/>
<rect x="32.00" y="319.00" width="11.04" height="13.35" fill="#f87058"/>
<rect x="42.74" y="319.00" width="11.04" height="13.35" fill="#f8a890"/>
<rect x="53.49" y="319.00" width="11.04" height="13.35" fill="#f8a890"/>
<rect x="64.23" y="319.00" width="11.04" height="13.35" fill="#f8c4b4"/>
<rect x="74.98" y="319.00" width="11.04" height="13.35" fill="#fcece8"/>
<rect x="85.72" y="319.00" width="11.04" height="13.35" fill="#fce8e4"/>
<rect x="96.46" y="319.00" width="11.04" height="13.35" fill="#f88c70"/>
<rect x="107.21" y="319.00" width="11.04" height="13.35" fill="#f89478"/>
<rect x="117.95" y="319.00" width="11.04" height="13.35" fill="#fcece8"/>
<rect x="128.70" y="319.00" width="11.04" height="13.35" fill="#fcd4c4"/>
<rect x="139.44" y="319.00" width="11.04" height="13.35" fill="#a898f4"/>
<rect x="150.18" y="319.00" width="11.04" height="13.35" fill="#e4e0fc"/>
<rect x="160.93" y="319.00" width="11.04" height="13.35" fill="#f0f0fc"/>
<rect x="171.67" y="319.00" width="11.04" height="13.35" fill="#c0b0f8"/>
<rect x="182.42" y="319.00" width="11.04" height="13.35" fill="#b8a8f8"/>
<rect x="193.16" y="319.00" width="11.04" height="13.35" fill="#f89070"/>
<rect x="203.90" y="319.00" width="11.04" height="13.35" fill="#eeeafc"/>
<rect x="214.65" y="319.00" width="11.04" height="13.35" fill="#a890f4"/>
<text x="29.0" y="247.0" font-size="6.2" text-anchor="end" font-weight="normal" fill="#222" >Clone3</text>
<text x="29.0" y="261.23" font-size="6.2" text-anchor="end" font-weight="normal" fill="#222" >Clone4</text>
<text x="29.0" y="275.46" font-size="6.2" text-anchor="end" font-weight="normal" fill="#222" >Clone5</text>
<text x="29.0" y="289.69" font-size="6.2" text-anchor="end" font-weight="normal" fill="#222" >Clone6</text>
<text x="29.0" y="303.92" font-size="6.2" text-anchor="end" font-weight="normal" fill="#222" >Clone7</text>
<text x="29.0" y="318.15000000000003" font-size="6.2" text-anchor="end" font-weight="normal" fill="#222" >Clone8</text>
<text x="29.0" y="332.38" font-size="6.2" text-anchor="end" font-weight="normal" fill="#222" >Clone9</text>
<text transform="translate(39.57,340.6) rotate(-90)" font-size="6.3" text-anchor="end" fill="#222">CD71</text>
<text transform="translate(50.32,340.6) rotate(-90)" font-size="6.3" text-anchor="end" fill="#222">CD69</text>
<text transform="translate(61.06,340.6) rotate(-90)" font-size="6.3" text-anchor="end" fill="#222">CD64</text>
<text transform="translate(71.80,340.6) rotate(-90)" font-size="6.3" text-anchor="end" fill="#222">CD45</text>
<text transform="translate(82.55,340.6) rotate(-90)" font-size="6.3" text-anchor="end" fill="#222">CD11c</text>
<text transform="translate(93.29,340.6) rotate(-90)" font-size="6.3" text-anchor="end" fill="#222">CD8</text>
<text transform="translate(104.04,340.6) rotate(-90)" font-size="6.3" text-anchor="end" fill="#222">CD4</text>
<text transform="translate(114.78,340.6) rotate(-90)" font-size="6.3" text-anchor="end" fill="#222">CD56</text>
<text transform="translate(125.52,340.6) rotate(-90)" font-size="6.3" text-anchor="end" fill="#222">CD83</text>
<text transform="translate(136.27,340.6) rotate(-90)" font-size="6.3" text-anchor="end" fill="#222">CD304</text>
<text transform="translate(147.01,340.6) rotate(-90)" font-size="6.3" text-anchor="end" fill="#222">CD22</text>
<text transform="translate(157.76,340.6) rotate(-90)" font-size="6.3" text-anchor="end" fill="#222">CD45RA</text>
<text transform="translate(168.50,340.6) rotate(-90)" font-size="6.3" text-anchor="end" fill="#222">CD2</text>
<text transform="translate(179.24,340.6) rotate(-90)" font-size="6.3" text-anchor="end" fill="#222">CD1c</text>
<text transform="translate(189.99,340.6) rotate(-90)" font-size="6.3" text-anchor="end" fill="#222">CD34</text>
<text transform="translate(200.73,340.6) rotate(-90)" font-size="6.3" text-anchor="end" fill="#222">CD44</text>
<text transform="translate(211.48,340.6) rotate(-90)" font-size="6.3" text-anchor="end" fill="#222">CD49d</text>
<text transform="translate(222.22,340.6) rotate(-90)" font-size="6.3" text-anchor="end" fill="#222">CD117</text>
<line x1="80.348" y1="239.7" x2="80.348" y2="238.6" stroke="#707070" stroke-width="0.7" />
<line x1="91.092" y1="239.7" x2="91.092" y2="238.6" stroke="#707070" stroke-width="0.7" />
<line x1="80.348" y1="238.6" x2="91.092" y2="238.6" stroke="#707070" stroke-width="0.7" />
<line x1="69.604" y1="239.7" x2="69.604" y2="237.8" stroke="#707070" stroke-width="0.7" />
<line x1="85.72" y1="238.6" x2="85.72" y2="237.8" stroke="#707070" stroke-width="0.7" />
<line x1="69.604" y1="237.8" x2="85.72" y2="237.8" stroke="#707070" stroke-width="0.7" />
<line x1="58.86" y1="239.7" x2="58.86" y2="237.2" stroke="#707070" stroke-width="0.7" />
<line x1="77.662" y1="237.8" x2="77.662" y2="237.2" stroke="#707070" stroke-width="0.7" />
<line x1="58.86" y1="237.2" x2="77.662" y2="237.2" stroke="#707070" stroke-width="0.7" />
<line x1="48.116" y1="239.7" x2="48.116" y2="235.2" stroke="#707070" stroke-width="0.7" />
<line x1="68.261" y1="237.2" x2="68.261" y2="235.2" stroke="#707070" stroke-width="0.7" />
<line x1="48.116" y1="235.2" x2="68.261" y2="235.2" stroke="#707070" stroke-width="0.7" />
<line x1="58.1885" y1="235.2" x2="58.1885" y2="234.3" stroke="#707070" stroke-width="0.7" />
<line x1="101.836" y1="239.7" x2="101.836" y2="234.3" stroke="#707070" stroke-width="0.7" />
<line x1="58.1885" y1="234.3" x2="101.836" y2="234.3" stroke="#707070" stroke-width="0.7" />
<line x1="123.324" y1="239.7" x2="123.324" y2="236.2" stroke="#707070" stroke-width="0.7" />
<line x1="134.06799999999998" y1="239.7" x2="134.06799999999998" y2="236.2" stroke="#707070" stroke-width="0.7" />
<line x1="123.324" y1="236.2" x2="134.06799999999998" y2="236.2" stroke="#707070" stroke-width="0.7" />
<line x1="112.58" y1="239.7" x2="112.58" y2="234.2" stroke="#707070" stroke-width="0.7" />
<line x1="128.696" y1="236.2" x2="128.696" y2="234.2" stroke="#707070" stroke-width="0.7" />
<line x1="112.58" y1="234.2" x2="128.696" y2="234.2" stroke="#707070" stroke-width="0.7" />
<line x1="80.01225" y1="234.3" x2="80.01225" y2="232.6" stroke="#707070" stroke-width="0.7" />
<line x1="120.638" y1="234.2" x2="120.638" y2="232.6" stroke="#707070" stroke-width="0.7" />
<line x1="80.01225" y1="232.6" x2="120.638" y2="232.6" stroke="#707070" stroke-width="0.7" />
<line x1="155.55599999999998" y1="239.7" x2="155.55599999999998" y2="237.7" stroke="#707070" stroke-width="0.7" />
<line x1="166.3" y1="239.7" x2="166.3" y2="237.7" stroke="#707070" stroke-width="0.7" />
<line x1="155.55599999999998" y1="237.7" x2="166.3" y2="237.7" stroke="#707070" stroke-width="0.7" />
<line x1="160.928" y1="237.7" x2="160.928" y2="234.2" stroke="#707070" stroke-width="0.7" />
<line x1="177.04399999999998" y1="239.7" x2="177.04399999999998" y2="234.2" stroke="#707070" stroke-width="0.7" />
<line x1="160.928" y1="234.2" x2="177.04399999999998" y2="234.2" stroke="#707070" stroke-width="0.7" />
<line x1="144.812" y1="239.7" x2="144.812" y2="233.5" stroke="#707070" stroke-width="0.7" />
<line x1="168.986" y1="234.2" x2="168.986" y2="233.5" stroke="#707070" stroke-width="0.7" />
<line x1="144.812" y1="233.5" x2="168.986" y2="233.5" stroke="#707070" stroke-width="0.7" />
<line x1="156.899" y1="233.5" x2="156.899" y2="231.2" stroke="#707070" stroke-width="0.7" />
<line x1="187.788" y1="239.7" x2="187.788" y2="231.2" stroke="#707070" stroke-width="0.7" />
<line x1="156.899" y1="231.2" x2="187.788" y2="231.2" stroke="#707070" stroke-width="0.7" />
<line x1="100.325125" y1="232.6" x2="100.325125" y2="230.4" stroke="#707070" stroke-width="0.7" />
<line x1="172.3435" y1="231.2" x2="172.3435" y2="230.4" stroke="#707070" stroke-width="0.7" />
<line x1="100.325125" y1="230.4" x2="172.3435" y2="230.4" stroke="#707070" stroke-width="0.7" />
<line x1="198.53199999999998" y1="239.7" x2="198.53199999999998" y2="234.2" stroke="#707070" stroke-width="0.7" />
<line x1="209.276" y1="239.7" x2="209.276" y2="234.2" stroke="#707070" stroke-width="0.7" />
<line x1="198.53199999999998" y1="234.2" x2="209.276" y2="234.2" stroke="#707070" stroke-width="0.7" />
<line x1="203.904" y1="234.2" x2="203.904" y2="229.6" stroke="#707070" stroke-width="0.7" />
<line x1="220.01999999999998" y1="239.7" x2="220.01999999999998" y2="229.6" stroke="#707070" stroke-width="0.7" />
<line x1="203.904" y1="229.6" x2="220.01999999999998" y2="229.6" stroke="#707070" stroke-width="0.7" />
<line x1="136.3343125" y1="230.4" x2="136.3343125" y2="225.1" stroke="#707070" stroke-width="0.7" />
<line x1="211.962" y1="229.6" x2="211.962" y2="225.1" stroke="#707070" stroke-width="0.7" />
<line x1="136.3343125" y1="225.1" x2="211.962" y2="225.1" stroke="#707070" stroke-width="0.7" />
<line x1="37.372" y1="239.7" x2="37.372" y2="223.9" stroke="#707070" stroke-width="0.7" />
<line x1="174.14815625" y1="225.1" x2="174.14815625" y2="223.9" stroke="#707070" stroke-width="0.7" />
<line x1="37.372" y1="223.9" x2="174.14815625" y2="223.9" stroke="#707070" stroke-width="0.7" />
<text x="228.6" y="248.7" font-size="6.0" text-anchor="start" font-weight="normal" fill="#222" >IVO v. VEH</text>
<text x="228.6" y="256.3" font-size="6.0" text-anchor="start" font-weight="normal" fill="#222" >Diff. in mean</text>
<text x="228.6" y="264.1" font-size="6.0" text-anchor="start" font-weight="normal" fill="#222" >normalized</text>
<text x="228.6" y="271.6" font-size="6.0" text-anchor="start" font-weight="normal" fill="#222" >count</text>
<defs><linearGradient id="cb" x1="0" y1="0" x2="0" y2="1"><stop offset="0" stop-color="#f00"/><stop offset="0.2" stop-color="#f20404"/><stop offset="0.3" stop-color="#f64a34"/><stop offset="0.39" stop-color="#faa48a"/><stop offset="0.5" stop-color="#fff"/><stop offset="0.6" stop-color="#c4b6f8"/><stop offset="0.7" stop-color="#6a58f4"/><stop offset="0.78" stop-color="#1008f0"/><stop offset="1" stop-color="#0000ee"/></linearGradient></defs>
<rect x="228.8" y="276.3" width="6.9" height="34.4" fill="url(#cb)"/>
<text x="237.8" y="279.9" font-size="6.3" text-anchor="start" font-weight="normal" fill="#222" >2</text>
<text x="237.8" y="287.59999999999997" font-size="6.3" text-anchor="start" font-weight="normal" fill="#222" >1</text>
<text x="237.8" y="295.59999999999997" font-size="6.3" text-anchor="start" font-weight="normal" fill="#222" >0</text>
<text x="237.8" y="303.5" font-size="6.3" text-anchor="start" font-weight="normal" fill="#222" >−1</text>
<text x="237.8" y="311.4" font-size="6.3" text-anchor="start" font-weight="normal" fill="#222" >−2</text>
<text x="356.25" y="193.8" font-size="8.8" text-anchor="middle" font-weight="normal" fill="#000" >CD11b-APC</text>
<line x1="315.4" y1="201.3" x2="315.4" y2="272.7" stroke="#000" stroke-width="1" />
<line x1="314.9" y1="272.2" x2="393.2" y2="272.2" stroke="#000" stroke-width="1" />
<line x1="323.6" y1="272.2" x2="323.6" y2="274.8" stroke="#000" stroke-width="1" />
<line x1="336.6" y1="272.2" x2="336.6" y2="274.8" stroke="#000" stroke-width="1" />
<line x1="349.8" y1="272.2" x2="349.8" y2="274.8" stroke="#000" stroke-width="1" />
<line x1="363.0" y1="272.2" x2="363.0" y2="274.8" stroke="#000" stroke-width="1" />
<line x1="376.2" y1="272.2" x2="376.2" y2="274.8" stroke="#000" stroke-width="1" />
<line x1="389.2" y1="272.2" x2="389.2" y2="274.8" stroke="#000" stroke-width="1" />
<line x1="312.59999999999997" y1="270.8" x2="315.4" y2="270.8" stroke="#000" stroke-width="0.9" />
<text x="309.79999999999995" y="273.05" font-size="6.4" text-anchor="end" font-weight="normal" fill="#222" >0</text>
<line x1="312.59999999999997" y1="257.9" x2="315.4" y2="257.9" stroke="#000" stroke-width="0.9" />
<text x="309.79999999999995" y="260.15" font-size="6.4" text-anchor="end" font-weight="normal" fill="#222" >10000</text>
<line x1="312.59999999999997" y1="245" x2="315.4" y2="245" stroke="#000" stroke-width="0.9" />
<text x="309.79999999999995" y="247.25" font-size="6.4" text-anchor="end" font-weight="normal" fill="#222" >20000</text>
<line x1="312.59999999999997" y1="232.1" x2="315.4" y2="232.1" stroke="#000" stroke-width="0.9" />
<text x="309.79999999999995" y="234.35" font-size="6.4" text-anchor="end" font-weight="normal" fill="#222" >30000</text>
<line x1="312.59999999999997" y1="219.2" x2="315.4" y2="219.2" stroke="#000" stroke-width="0.9" />
<text x="309.79999999999995" y="221.45" font-size="6.4" text-anchor="end" font-weight="normal" fill="#222" >40000</text>
<line x1="312.59999999999997" y1="206.3" x2="315.4" y2="206.3" stroke="#000" stroke-width="0.9" />
<text x="309.79999999999995" y="208.55" font-size="6.4" text-anchor="end" font-weight="normal" fill="#222" >50000</text>
<path d="M376.2,205.8 L376.2,204.4 L389.2,204.4 L389.2,205.8" fill="none" stroke="#111" stroke-width="0.9"/>
<text x="382.7" y="203.3" font-size="6.3" text-anchor="middle" font-weight="normal" fill="#222" >0.011</text>
<path d="M323.6,214.6 L323.6,213.2 L389.2,213.2 L389.2,214.6" fill="none" stroke="#111" stroke-width="0.9"/>
<text x="356.4" y="212.1" font-size="6.3" text-anchor="middle" font-weight="normal" fill="#222" >0.006</text>
<path d="M323.6,223.0 L323.6,221.6 L376.2,221.6 L376.2,223.0" fill="none" stroke="#111" stroke-width="0.9"/>
<text x="349.9" y="220.5" font-size="6.3" text-anchor="middle" font-weight="normal" fill="#222" >0.18</text>
<path d="M323.6,231.20000000000002 L323.6,229.8 L336.6,229.8 L336.6,231.20000000000002" fill="none" stroke="#111" stroke-width="0.9"/>
<text x="330.1" y="228.70000000000002" font-size="6.3" text-anchor="middle" font-weight="normal" fill="#222" >0.13</text>
<circle cx="322.80" cy="268.20" r="1.35" fill="#a30d36"/>
<circle cx="324.30" cy="267.80" r="1.35" fill="#a30d36"/>
<circle cx="323.30" cy="268.60" r="1.35" fill="#a30d36"/>
<circle cx="335.80" cy="267.30" r="1.35" fill="#163f72"/>
<circle cx="337.30" cy="268.00" r="1.35" fill="#163f72"/>
<circle cx="336.30" cy="267.80" r="1.35" fill="#163f72"/>
<circle cx="349.00" cy="268.80" r="1.35" fill="#2a9050"/>
<circle cx="350.50" cy="268.40" r="1.35" fill="#2a9050"/>
<circle cx="362.20" cy="267.80" r="1.35" fill="#43245a"/>
<circle cx="363.70" cy="267.30" r="1.35" fill="#43245a"/>
<circle cx="362.70" cy="268.20" r="1.35" fill="#43245a"/>
<line x1="376.2" y1="257.5" x2="376.2" y2="267.5" stroke="#f2a33a" stroke-width="0.9" />
<line x1="375.09999999999997" y1="257.5" x2="377.3" y2="257.5" stroke="#f2a33a" stroke-width="0.8" />
<line x1="375.09999999999997" y1="267.5" x2="377.3" y2="267.5" stroke="#f2a33a" stroke-width="0.8" />
<circle cx="375.40" cy="256.80" r="1.35" fill="#f2a33a"/>
<circle cx="376.90" cy="261.00" r="1.35" fill="#f2a33a"/>
<circle cx="375.90" cy="264.80" r="1.35" fill="#f2a33a"/>
<circle cx="377.10" cy="267.60" r="1.35" fill="#f2a33a"/>
<line x1="389.2" y1="233.9" x2="389.2" y2="243.3" stroke="#1e5248" stroke-width="0.9" />
<line x1="388.09999999999997" y1="233.9" x2="390.3" y2="233.9" stroke="#1e5248" stroke-width="0.8" />
<line x1="388.09999999999997" y1="243.3" x2="390.3" y2="243.3" stroke="#1e5248" stroke-width="0.8" />
<circle cx="389.20" cy="223.30" r="1.35" fill="#0b2f28"/>
<circle cx="389.20" cy="230.60" r="1.35" fill="#0b2f28"/>
<circle cx="389.20" cy="243.30" r="1.35" fill="#0b2f28"/>
<circle cx="389.20" cy="247.60" r="1.35" fill="#0b2f28"/>
<circle cx="389.20" cy="252.60" r="1.35" fill="#0b2f28"/>
<text x="470.0" y="193.6" font-size="8.4" text-anchor="middle" font-weight="normal" fill="#000" >CD14-PE</text>
<line x1="429.3" y1="202.0" x2="429.3" y2="273.0" stroke="#000" stroke-width="1" />
<line x1="428.8" y1="272.5" x2="507.0" y2="272.5" stroke="#000" stroke-width="1" />
<line x1="436.7" y1="272.5" x2="436.7" y2="275.1" stroke="#000" stroke-width="1" />
<line x1="450.0" y1="272.5" x2="450.0" y2="275.1" stroke="#000" stroke-width="1" />
<line x1="463.2" y1="272.5" x2="463.2" y2="275.1" stroke="#000" stroke-width="1" />
<line x1="476.5" y1="272.5" x2="476.5" y2="275.1" stroke="#000" stroke-width="1" />
<line x1="489.5" y1="272.5" x2="489.5" y2="275.1" stroke="#000" stroke-width="1" />
<line x1="503.0" y1="272.5" x2="503.0" y2="275.1" stroke="#000" stroke-width="1" />
<line x1="426.5" y1="255.5" x2="429.3" y2="255.5" stroke="#000" stroke-width="0.9" />
<text x="423.7" y="257.75" font-size="6.4" text-anchor="end" font-weight="normal" fill="#222" >10000</text>
<line x1="426.5" y1="227.5" x2="429.3" y2="227.5" stroke="#000" stroke-width="0.9" />
<text x="423.7" y="229.75" font-size="6.4" text-anchor="end" font-weight="normal" fill="#222" >20000</text>
<path d="M489.5,206.4 L489.5,205 L503.0,205 L503.0,206.4" fill="none" stroke="#111" stroke-width="0.9"/>
<text x="496.25" y="203.9" font-size="6.3" text-anchor="middle" font-weight="normal" fill="#222" >0.015</text>
<path d="M436.7,214.4 L436.7,213 L503.0,213 L503.0,214.4" fill="none" stroke="#111" stroke-width="0.9"/>
<text x="469.85" y="211.9" font-size="6.3" text-anchor="middle" font-weight="normal" fill="#222" >0.0034</text>
<path d="M436.7,222.70000000000002 L436.7,221.3 L489.5,221.3 L489.5,222.70000000000002" fill="none" stroke="#111" stroke-width="0.9"/>
<text x="463.1" y="220.20000000000002" font-size="6.3" text-anchor="middle" font-weight="normal" fill="#222" >0.015</text>
<path d="M436.7,231.4 L436.7,230 L450.0,230 L450.0,231.4" fill="none" stroke="#111" stroke-width="0.9"/>
<text x="443.35" y="228.9" font-size="6.3" text-anchor="middle" font-weight="normal" fill="#222" >0.38</text>
<circle cx="435.90" cy="265.00" r="1.35" fill="#a30d36"/>
<circle cx="437.40" cy="266.80" r="1.35" fill="#a30d36"/>
<circle cx="436.40" cy="268.00" r="1.35" fill="#a30d36"/>
<circle cx="449.20" cy="266.80" r="1.35" fill="#163f72"/>
<circle cx="450.70" cy="267.20" r="1.35" fill="#163f72"/>
<circle cx="462.40" cy="267.00" r="1.35" fill="#2a9050"/>
<circle cx="463.90" cy="269.20" r="1.35" fill="#2a9050"/>
<circle cx="462.90" cy="268.20" r="1.35" fill="#2a9050"/>
<circle cx="475.70" cy="262.50" r="1.35" fill="#43245a"/>
<circle cx="477.20" cy="264.50" r="1.35" fill="#43245a"/>
<circle cx="476.20" cy="266.20" r="1.35" fill="#43245a"/>
<line x1="489.5" y1="254" x2="489.5" y2="259.5" stroke="#f2a33a" stroke-width="0.9" />
<line x1="488.4" y1="254" x2="490.6" y2="254" stroke="#f2a33a" stroke-width="0.8" />
<line x1="488.4" y1="259.5" x2="490.6" y2="259.5" stroke="#f2a33a" stroke-width="0.8" />
<circle cx="488.70" cy="253.80" r="1.35" fill="#f2a33a"/>
<circle cx="490.20" cy="256.50" r="1.35" fill="#f2a33a"/>
<circle cx="489.20" cy="259.50" r="1.35" fill="#f2a33a"/>
<line x1="503.0" y1="231.9" x2="503.0" y2="239.6" stroke="#1e5248" stroke-width="0.9" />
<line x1="501.9" y1="231.9" x2="504.1" y2="231.9" stroke="#1e5248" stroke-width="0.8" />
<line x1="501.9" y1="239.6" x2="504.1" y2="239.6" stroke="#1e5248" stroke-width="0.8" />
<circle cx="503.00" cy="222.70" r="1.35" fill="#0b2f28"/>
<circle cx="503.00" cy="228.50" r="1.35" fill="#0b2f28"/>
<circle cx="503.00" cy="239.60" r="1.35" fill="#0b2f28"/>
<circle cx="503.00" cy="246.80" r="1.35" fill="#0b2f28"/>
<text x="356.15" y="288.1" font-size="8.5" text-anchor="middle" font-weight="normal" fill="#000" >CD15-PC7</text>
<line x1="315.8" y1="296.3" x2="315.8" y2="367.1" stroke="#000" stroke-width="1" />
<line x1="315.3" y1="366.6" x2="393.2" y2="366.6" stroke="#000" stroke-width="1" />
<line x1="323.6" y1="366.6" x2="323.6" y2="369.20000000000005" stroke="#000" stroke-width="1" />
<line x1="336.6" y1="366.6" x2="336.6" y2="369.20000000000005" stroke="#000" stroke-width="1" />
<line x1="349.8" y1="366.6" x2="349.8" y2="369.20000000000005" stroke="#000" stroke-width="1" />
<line x1="363.0" y1="366.6" x2="363.0" y2="369.20000000000005" stroke="#000" stroke-width="1" />
<line x1="376.2" y1="366.6" x2="376.2" y2="369.20000000000005" stroke="#000" stroke-width="1" />
<line x1="389.2" y1="366.6" x2="389.2" y2="369.20000000000005" stroke="#000" stroke-width="1" />
<line x1="313.0" y1="365.1" x2="315.8" y2="365.1" stroke="#000" stroke-width="0.9" />
<text x="310.2" y="367.35" font-size="6.4" text-anchor="end" font-weight="normal" fill="#222" >0e+00</text>
<line x1="313.0" y1="346.5" x2="315.8" y2="346.5" stroke="#000" stroke-width="0.9" />
<text x="310.2" y="348.75" font-size="6.4" text-anchor="end" font-weight="normal" fill="#222" >1e+05</text>
<line x1="313.0" y1="327.4" x2="315.8" y2="327.4" stroke="#000" stroke-width="0.9" />
<text x="310.2" y="329.65" font-size="6.4" text-anchor="end" font-weight="normal" fill="#222" >2e+05</text>
<line x1="313.0" y1="308.4" x2="315.8" y2="308.4" stroke="#000" stroke-width="0.9" />
<text x="310.2" y="310.65" font-size="6.4" text-anchor="end" font-weight="normal" fill="#222" >3e+05</text>
<path d="M376.2,300.9 L376.2,299.5 L389.2,299.5 L389.2,300.9" fill="none" stroke="#111" stroke-width="0.9"/>
<text x="382.7" y="298.4" font-size="6.3" text-anchor="middle" font-weight="normal" fill="#222" >0.052</text>
<path d="M323.6,310.0 L323.6,308.6 L389.2,308.6 L389.2,310.0" fill="none" stroke="#111" stroke-width="0.9"/>
<text x="356.4" y="307.5" font-size="6.3" text-anchor="middle" font-weight="normal" fill="#222" >0.042</text>
<path d="M323.6,318.9 L323.6,317.5 L376.2,317.5 L376.2,318.9" fill="none" stroke="#111" stroke-width="0.9"/>
<text x="349.9" y="316.4" font-size="6.3" text-anchor="middle" font-weight="normal" fill="#222" >0.55</text>
<path d="M323.6,327.79999999999995 L323.6,326.4 L336.6,326.4 L336.6,327.79999999999995" fill="none" stroke="#111" stroke-width="0.9"/>
<text x="330.1" y="325.29999999999995" font-size="6.3" text-anchor="middle" font-weight="normal" fill="#222" >0.036</text>
<line x1="323.6" y1="356.5" x2="323.6" y2="362" stroke="#a30d36" stroke-width="0.9" />
<line x1="322.5" y1="356.5" x2="324.70000000000005" y2="356.5" stroke="#a30d36" stroke-width="0.8" />
<line x1="322.5" y1="362" x2="324.70000000000005" y2="362" stroke="#a30d36" stroke-width="0.8" />
<circle cx="322.80" cy="356.80" r="1.35" fill="#a30d36"/>
<circle cx="324.30" cy="359.20" r="1.35" fill="#a30d36"/>
<circle cx="323.30" cy="361.80" r="1.35" fill="#a30d36"/>
<circle cx="335.80" cy="355.40" r="1.35" fill="#163f72"/>
<circle cx="337.30" cy="357.00" r="1.35" fill="#163f72"/>
<circle cx="336.30" cy="358.60" r="1.35" fill="#163f72"/>
<circle cx="349.00" cy="363.00" r="1.35" fill="#2a9050"/>
<circle cx="350.50" cy="363.40" r="1.35" fill="#2a9050"/>
<line x1="363.0" y1="351" x2="363.0" y2="357.5" stroke="#43245a" stroke-width="0.9" />
<line x1="361.9" y1="351" x2="364.1" y2="351" stroke="#43245a" stroke-width="0.8" />
<line x1="361.9" y1="357.5" x2="364.1" y2="357.5" stroke="#43245a" stroke-width="0.8" />
<circle cx="362.20" cy="350.00" r="1.35" fill="#43245a"/>
<circle cx="363.70" cy="353.50" r="1.35" fill="#43245a"/>
<circle cx="362.70" cy="356.00" r="1.35" fill="#43245a"/>
<circle cx="363.90" cy="358.00" r="1.35" fill="#43245a"/>
<line x1="376.2" y1="353" x2="376.2" y2="363" stroke="#f2a33a" stroke-width="0.9" />
<line x1="375.09999999999997" y1="353" x2="377.3" y2="353" stroke="#f2a33a" stroke-width="0.8" />
<line x1="375.09999999999997" y1="363" x2="377.3" y2="363" stroke="#f2a33a" stroke-width="0.8" />
<circle cx="375.40" cy="353.20" r="1.35" fill="#f2a33a"/>
<circle cx="376.90" cy="356.00" r="1.35" fill="#f2a33a"/>
<circle cx="375.90" cy="359.50" r="1.35" fill="#f2a33a"/>
<circle cx="377.10" cy="362.80" r="1.35" fill="#f2a33a"/>
<line x1="389.2" y1="327.7" x2="389.2" y2="343.3" stroke="#1e5248" stroke-width="0.9" />
<line x1="388.09999999999997" y1="327.7" x2="390.3" y2="327.7" stroke="#1e5248" stroke-width="0.8" />
<line x1="388.09999999999997" y1="343.3" x2="390.3" y2="343.3" stroke="#1e5248" stroke-width="0.8" />
<circle cx="389.20" cy="317.50" r="1.35" fill="#0b2f28"/>
<circle cx="389.20" cy="320.20" r="1.35" fill="#0b2f28"/>
<circle cx="389.20" cy="327.70" r="1.35" fill="#0b2f28"/>
<circle cx="389.20" cy="350.10" r="1.35" fill="#0b2f28"/>
<circle cx="389.20" cy="360.30" r="1.35" fill="#0b2f28"/>
<text transform="translate(324.00,375.80) rotate(-45)" font-size="6.5" text-anchor="end" fill="#1a1a1a">VEH</text>
<text transform="translate(337.00,375.80) rotate(-45)" font-size="6.5" text-anchor="end" fill="#1a1a1a">IVO</text>
<text transform="translate(350.20,375.80) rotate(-45)" font-size="6.5" text-anchor="end" fill="#1a1a1a">VEN</text>
<text transform="translate(363.40,375.80) rotate(-45)" font-size="6.5" text-anchor="end" fill="#1a1a1a">IVO+VEN</text>
<text transform="translate(376.60,375.80) rotate(-45)" font-size="6.5" text-anchor="end" fill="#1a1a1a">AZA</text>
<text transform="translate(389.60,375.80) rotate(-45)" font-size="6.5" text-anchor="end" fill="#1a1a1a">IVO+AZA</text>
<text x="469.7" y="288.4" font-size="8.3" text-anchor="middle" font-weight="normal" fill="#000" >Side scatter</text>
<line x1="429.5" y1="296.3" x2="429.5" y2="366.9" stroke="#000" stroke-width="1" />
<line x1="429.0" y1="366.4" x2="507.0" y2="366.4" stroke="#000" stroke-width="1" />
<line x1="436.7" y1="366.4" x2="436.7" y2="369.0" stroke="#000" stroke-width="1" />
<line x1="450.0" y1="366.4" x2="450.0" y2="369.0" stroke="#000" stroke-width="1" />
<line x1="463.2" y1="366.4" x2="463.2" y2="369.0" stroke="#000" stroke-width="1" />
<line x1="476.5" y1="366.4" x2="476.5" y2="369.0" stroke="#000" stroke-width="1" />
<line x1="489.5" y1="366.4" x2="489.5" y2="369.0" stroke="#000" stroke-width="1" />
<line x1="503.0" y1="366.4" x2="503.0" y2="369.0" stroke="#000" stroke-width="1" />
<line x1="426.7" y1="364.3" x2="429.5" y2="364.3" stroke="#000" stroke-width="0.9" />
<text x="423.9" y="366.55" font-size="6.4" text-anchor="end" font-weight="normal" fill="#222" >100000</text>
<line x1="426.7" y1="351" x2="429.5" y2="351" stroke="#000" stroke-width="0.9" />
<text x="423.9" y="353.25" font-size="6.4" text-anchor="end" font-weight="normal" fill="#222" >150000</text>
<line x1="426.7" y1="337.7" x2="429.5" y2="337.7" stroke="#000" stroke-width="0.9" />
<text x="423.9" y="339.95" font-size="6.4" text-anchor="end" font-weight="normal" fill="#222" >200000</text>
<line x1="426.7" y1="324.4" x2="429.5" y2="324.4" stroke="#000" stroke-width="0.9" />
<text x="423.9" y="326.65" font-size="6.4" text-anchor="end" font-weight="normal" fill="#222" >250000</text>
<line x1="426.7" y1="311" x2="429.5" y2="311" stroke="#000" stroke-width="0.9" />
<text x="423.9" y="313.25" font-size="6.4" text-anchor="end" font-weight="normal" fill="#222" >300000</text>
<line x1="426.7" y1="297.7" x2="429.5" y2="297.7" stroke="#000" stroke-width="0.9" />
<text x="423.9" y="299.95" font-size="6.4" text-anchor="end" font-weight="normal" fill="#222" >350000</text>
<path d="M489.5,300.5 L489.5,299.1 L503.0,299.1 L503.0,300.5" fill="none" stroke="#111" stroke-width="0.9"/>
<text x="496.25" y="298.0" font-size="6.3" text-anchor="middle" font-weight="normal" fill="#222" >0.086</text>
<path d="M436.7,309.79999999999995 L436.7,308.4 L503.0,308.4 L503.0,309.79999999999995" fill="none" stroke="#111" stroke-width="0.9"/>
<text x="469.85" y="307.29999999999995" font-size="6.3" text-anchor="middle" font-weight="normal" fill="#222" >0.0052</text>
<path d="M436.7,318.4 L436.7,317 L489.5,317 L489.5,318.4" fill="none" stroke="#111" stroke-width="0.9"/>
<text x="463.1" y="315.9" font-size="6.3" text-anchor="middle" font-weight="normal" fill="#222" >0.1</text>
<path d="M436.7,328.29999999999995 L436.7,326.9 L450.0,326.9 L450.0,328.29999999999995" fill="none" stroke="#111" stroke-width="0.9"/>
<text x="443.35" y="325.79999999999995" font-size="6.3" text-anchor="middle" font-weight="normal" fill="#222" >0.0017</text>
<circle cx="435.90" cy="356.50" r="1.35" fill="#a30d36"/>
<circle cx="437.40" cy="358.50" r="1.35" fill="#a30d36"/>
<circle cx="436.40" cy="360.80" r="1.35" fill="#a30d36"/>
<circle cx="437.60" cy="362.80" r="1.35" fill="#a30d36"/>
<circle cx="449.20" cy="352.60" r="1.35" fill="#163f72"/>
<circle cx="450.70" cy="354.30" r="1.35" fill="#163f72"/>
<circle cx="449.70" cy="356.30" r="1.35" fill="#163f72"/>
<circle cx="462.40" cy="358.80" r="1.35" fill="#2a9050"/>
<circle cx="463.90" cy="361.00" r="1.35" fill="#2a9050"/>
<circle cx="462.90" cy="363.20" r="1.35" fill="#2a9050"/>
<circle cx="475.70" cy="353.60" r="1.35" fill="#43245a"/>
<circle cx="477.20" cy="355.00" r="1.35" fill="#43245a"/>
<circle cx="476.20" cy="356.40" r="1.35" fill="#43245a"/>
<line x1="489.5" y1="339.2" x2="489.5" y2="354.6" stroke="#f2a33a" stroke-width="0.9" />
<line x1="488.4" y1="339.2" x2="490.6" y2="339.2" stroke="#f2a33a" stroke-width="0.8" />
<line x1="488.4" y1="354.6" x2="490.6" y2="354.6" stroke="#f2a33a" stroke-width="0.8" />
<circle cx="488.70" cy="339.20" r="1.35" fill="#f2a33a"/>
<circle cx="490.20" cy="346.90" r="1.35" fill="#f2a33a"/>
<circle cx="489.20" cy="349.70" r="1.35" fill="#f2a33a"/>
<circle cx="490.40" cy="354.60" r="1.35" fill="#f2a33a"/>
<line x1="503.0" y1="330" x2="503.0" y2="338.5" stroke="#1e5248" stroke-width="0.9" />
<line x1="501.9" y1="330" x2="504.1" y2="330" stroke="#1e5248" stroke-width="0.8" />
<line x1="501.9" y1="338.5" x2="504.1" y2="338.5" stroke="#1e5248" stroke-width="0.8" />
<circle cx="503.00" cy="317.70" r="1.35" fill="#0b2f28"/>
<circle cx="503.00" cy="330.00" r="1.35" fill="#0b2f28"/>
<circle cx="503.00" cy="338.50" r="1.35" fill="#0b2f28"/>
<circle cx="503.00" cy="342.30" r="1.35" fill="#0b2f28"/>
<circle cx="503.00" cy="343.50" r="1.35" fill="#0b2f28"/>
<text transform="translate(437.10,375.60) rotate(-45)" font-size="6.5" text-anchor="end" fill="#1a1a1a">VEH</text>
<text transform="translate(450.40,375.60) rotate(-45)" font-size="6.5" text-anchor="end" fill="#1a1a1a">IVO</text>
<text transform="translate(463.60,375.60) rotate(-45)" font-size="6.5" text-anchor="end" fill="#1a1a1a">VEN</text>
<text transform="translate(476.90,375.60) rotate(-45)" font-size="6.5" text-anchor="end" fill="#1a1a1a">IVO+VEN</text>
<text transform="translate(489.90,375.60) rotate(-45)" font-size="6.5" text-anchor="end" fill="#1a1a1a">AZA</text>
<text transform="translate(503.40,375.60) rotate(-45)" font-size="6.5" text-anchor="end" fill="#1a1a1a">IVO+AZA</text>
<text transform="translate(286,280.3) rotate(-90)" font-size="6.8" font-weight="bold" text-anchor="middle" fill="#3a3a3a" textLength="64.8" lengthAdjust="spacingAndGlyphs">Median fluorescent intensity</text>
</svg>
</body></html>
